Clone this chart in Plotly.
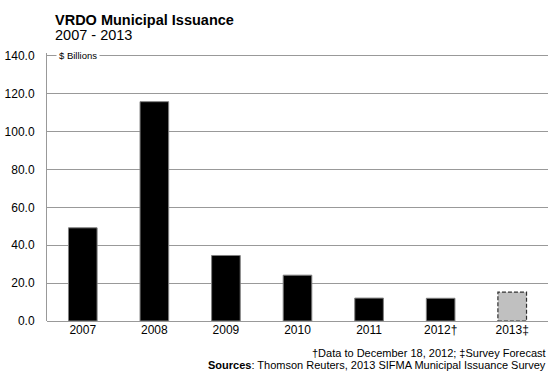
import plotly.graph_objects as go

years = ["2007", "2008", "2009", "2010", "2011", "2012†", "2013‡"]
issuance = [49.2, 115.8, 34.6, 24.2, 12.1, 12.0, 15.2]
actual_n = 6  # last category is a survey forecast

FONT = "Arial, Liberation Sans, sans-serif"

fig = go.Figure()
fig.add_trace(go.Bar(
    x=years[:actual_n], y=issuance[:actual_n], width=0.4,
    marker=dict(color="#000000", line=dict(color="#808080", width=1)),
    hoverinfo="x+y",
))
fig.add_trace(go.Bar(
    x=years[actual_n:], y=issuance[actual_n:], width=0.4,
    marker=dict(color="#c0c0c0", line=dict(color="#c0c0c0", width=0)),
    hoverinfo="x+y",
))

# dashed outline for the forecast bar, in data coordinates
fcst_i = actual_n
fig.add_shape(type="rect", xref="x", yref="y",
              x0=fcst_i - 0.2, x1=fcst_i + 0.2, y0=0, y1=issuance[fcst_i],
              line=dict(color="#303030", width=1.2, dash="4px,2px"),
              layer="above")

fig.update_layout(
    width=548, height=371,
    margin=dict(l=47, r=0, t=53, b=50, autoexpand=False),
    paper_bgcolor="white", plot_bgcolor="white",
    showlegend=False, barmode="overlay",
    font=dict(family=FONT, size=12, color="#000000"),
    xaxis=dict(
        type="category", categoryorder="array", categoryarray=years,
        showgrid=False, showline=False, ticks="", tickfont=dict(size=12),
        range=[-0.5, 6.5], fixedrange=True,
    ),
    yaxis=dict(
        range=[0, 141.5], tickvals=[0, 20, 40, 60, 80, 100, 120, 140], tickformat=".1f",
        showgrid=True, gridcolor="#999999", gridwidth=1,
        showline=True, linecolor="#999999", linewidth=1,
        zeroline=True, zerolinecolor="#999999", zerolinewidth=1,
        ticks="", ticklabelstandoff=9, tickfont=dict(size=12), fixedrange=True,
    ),
    annotations=[
        dict(text="<b>VRDO Municipal Issuance</b>", xref="paper", yref="paper",
             x=0.011, y=1, xanchor="left", yanchor="middle", yshift=33,
             showarrow=False, font=dict(size=14.5)),
        dict(text="2007 - 2013", xref="paper", yref="paper",
             x=0.011, y=1, xanchor="left", yanchor="middle", yshift=18,
             showarrow=False, font=dict(size=14.5)),
        dict(text="$ Billions", xref="paper", yref="y", x=0.018, y=140,
             xanchor="left", yanchor="middle", showarrow=False,
             bgcolor="white", font=dict(size=9.5), borderpad=2),
        dict(text="†Data to December 18, 2012; ‡Survey Forecast", xref="paper", yref="paper",
             x=1, y=0, xanchor="right", yanchor="middle", yshift=-32,
             showarrow=False, font=dict(size=11)),
        dict(text="<b>Sources</b>: Thomson Reuters, 2013 SIFMA Municipal Issuance Survey",
             xref="paper", yref="paper", x=1, y=0, xanchor="right", yanchor="middle",
             yshift=-44, showarrow=False, font=dict(size=11)),
    ],
)

fig.write_html("out.html", config={"displayModeBar": False},
               post_script="document.body.style.margin='0px';")
